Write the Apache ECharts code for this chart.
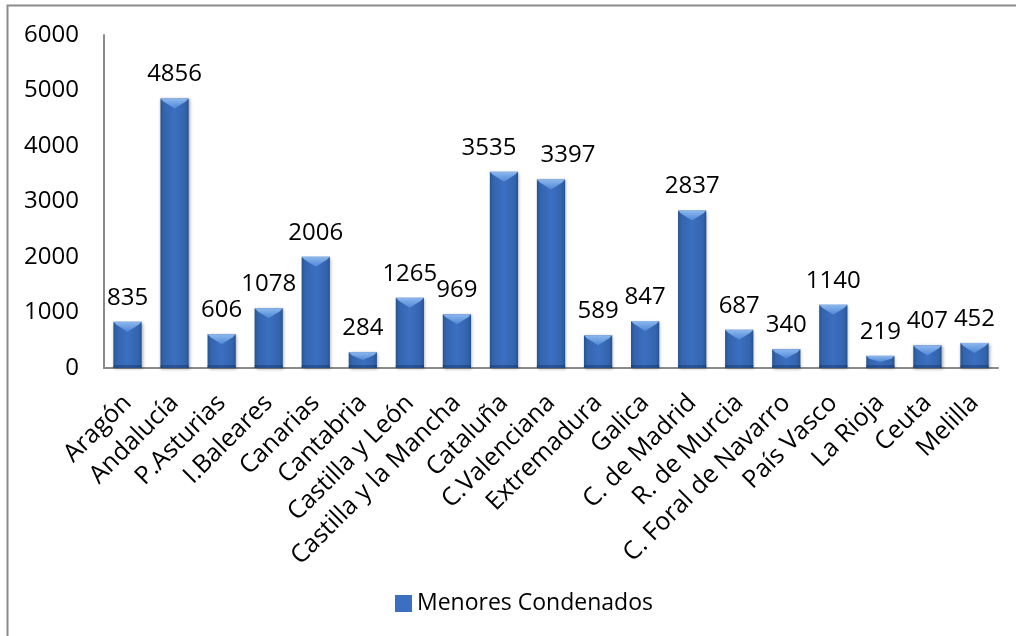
<!DOCTYPE html>
<html>
<head>
<meta charset="utf-8">
<script src="https://cdn.jsdelivr.net/npm/echarts@6/dist/echarts.min.js"></script>
<style>
  html, body { margin: 0; padding: 0; background: #fff; }
  #chart { width: 1016px; height: 636px; }
</style>
</head>
<body>
<div id="chart"></div>
<script>
const categories = ["Aragón", "Andalucía", "P.Asturias", "I.Baleares", "Canarias", "Cantabria", "Castilla y León", "Castilla y la Mancha", "Cataluña", "C.Valenciana", "Extremadura", "Galica", "C. de Madrid", "R. de Murcia", "C. Foral de Navarro", "País Vasco", "La Rioja", "Ceuta", "Melilla"];
const values = [835, 4856, 606, 1078, 2006, 284, 1265, 969, 3535, 3397, 589, 847, 2837, 687, 340, 1140, 219, 407, 452];
const seriesName = "Menores Condenados";
const yTicks = [0, 1000, 2000, 3000, 4000, 5000, 6000];
// label nudges (px) used where the original's labels were moved apart
const labelNudge = { 8: -15, 9: 17 };

const font = "'Open Sans', 'Noto Sans', sans-serif";
const BAR_RATIO = 0.6;
const barGradient = new echarts.graphic.LinearGradient(0, 0, 1, 0, [
  { offset: 0, color: '#26538f' },
  { offset: 0.12, color: '#3464ae' },
  { offset: 0.5, color: '#3b6fc0' },
  { offset: 0.88, color: '#3464ae' },
  { offset: 1, color: '#26538f' }
]);

const barData = values.map(function (v, i) {
  const d = { value: v };
  if (labelNudge[i] !== undefined) d.label = { offset: [labelNudge[i], 0] };
  return d;
});

const chart = echarts.init(document.getElementById('chart'), null, { renderer: 'canvas' });
chart.setOption({
  backgroundColor: '#ffffff',
  animation: false,
  graphic: [{
    type: 'rect',
    shape: { x: 7.5, y: 5.5, width: 1100, height: 700 },
    style: { fill: 'none', stroke: '#8c8c8c', lineWidth: 2 },
    silent: true
  }],
  grid: { left: 104, right: 18, top: 35, bottom: 268, containLabel: false },
  legend: {
    show: true,
    left: 390,
    top: 587,
    itemWidth: 17,
    itemHeight: 17,
    itemGap: 6,
    icon: 'rect',
    textStyle: { fontFamily: font, fontSize: 23, color: '#000' },
    data: [{ name: seriesName, itemStyle: { color: '#3b6fc0' } }]
  },
  xAxis: {
    type: 'category',
    data: categories,
    axisLine: { show: true, lineStyle: { color: '#8a8a8a', width: 2 } },
    axisTick: { show: false },
    axisLabel: {
      interval: 0,
      rotate: 45,
      margin: 31,
      fontFamily: font,
      fontSize: 25,
      color: '#000'
    }
  },
  yAxis: {
    type: 'value',
    min: yTicks[0],
    max: yTicks[yTicks.length - 1],
    interval: 1000,
    axisLine: { show: true, lineStyle: { color: '#8a8a8a', width: 2 } },
    axisTick: { show: false },
    splitLine: { show: false },
    axisLabel: {
      margin: 25,
      fontFamily: font,
      fontSize: 24,
      color: '#000',
      formatter: function (v) { return String(v); }
    }
  },
  series: [{
    name: seriesName,
    type: 'bar',
    data: barData,
    barWidth: (BAR_RATIO * 100) + '%',
    itemStyle: {
      color: barGradient,
      shadowColor: 'rgba(0,0,0,0.35)',
      shadowBlur: 3,
      shadowOffsetX: 1,
      shadowOffsetY: 1
    },
    label: {
      show: true,
      position: 'top',
      distance: 12,
      fontFamily: font,
      fontSize: 24,
      color: '#000'
    }
  }, {
    name: 'bevel',
    type: 'custom',
    silent: true,
    z: 3,
    data: values.map(function (v, i) { return [i, v]; }),
    renderItem: function (params, api) {
      const top = api.coord([api.value(0), api.value(1)]);
      const base = api.coord([api.value(0), 0]);
      const w = api.size([1, 0])[0] * BAR_RATIO;
      const x0 = top[0] - w / 2, x1 = top[0] + w / 2;
      const h = Math.min(10, (base[1] - top[1]) / 2);
      return {
        type: 'group',
        children: [{
          type: 'polygon',
          shape: { points: [[x0, top[1]], [x1, top[1]], [x1 - 3, top[1] + 3], [top[0], top[1] + h], [x0 + 3, top[1] + 3]] },
          style: {
            fill: new echarts.graphic.LinearGradient(0, 0, 0, 1, [
              { offset: 0, color: '#8db8ee' },
              { offset: 1, color: '#4f88d6' }
            ])
          }
        }, {
          type: 'rect',
          shape: { x: x0, y: base[1] - 3, width: w, height: 3 },
          style: { fill: 'rgba(20,50,100,0.45)' }
        }]
      };
    }
  }]
});
</script>
</body>
</html>
